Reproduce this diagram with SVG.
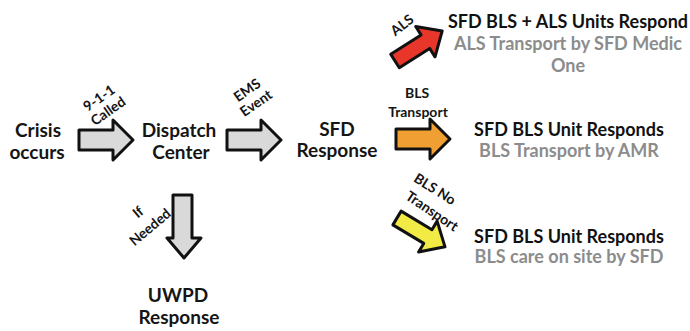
<svg xmlns="http://www.w3.org/2000/svg" width="690" height="331" viewBox="0 0 690 331">
<defs>
<style>
.node{font-family:Lato,"Open Sans","Liberation Sans",sans-serif;font-weight:700;font-size:19px;fill:#151515;text-anchor:middle}
.lbl{font-family:Lato,"Open Sans","Liberation Sans",sans-serif;font-weight:700;font-size:14px;fill:#151515;text-anchor:middle}
.ttl{font-family:Lato,"Open Sans","Liberation Sans",sans-serif;font-weight:700;font-size:18px;fill:#111;text-anchor:middle}
.sub{font-family:Lato,"Open Sans","Liberation Sans",sans-serif;font-weight:700;font-size:18px;fill:#8c8c8c;text-anchor:middle}
.arr{stroke:#111;stroke-width:3;stroke-linejoin:round}
.gray{fill:#d9d9d9}
</style>
<path id="harrow" d="M0,-10 H34 V-20 L54,0 L34,20 V10 H0 Z"/>
<path id="darrow" d="M0,-8 H36 V-18 L56,0 L36,18 V8 H0 Z"/>
</defs>
<rect width="690" height="331" fill="#fff"/>

<g id="connectors">
  <g id="c-crisis-dispatch">
    <use href="#harrow" class="arr gray" transform="translate(79,140)"/>
    <text class="lbl" transform="translate(99,98) rotate(-35)" y="5">9-1-1</text>
    <text class="lbl" transform="translate(108,111) rotate(-35)" y="5">Called</text>
  </g>
  <g id="c-dispatch-sfd">
    <use href="#harrow" class="arr gray" transform="translate(227,140)"/>
    <text class="lbl" transform="translate(247,90) rotate(-35)" y="5">EMS</text>
    <text class="lbl" transform="translate(256,103) rotate(-35)" y="5">Event</text>
  </g>
  <g id="c-dispatch-uwpd">
    <path class="arr gray" d="M173,195 H192 V238 H201 L184,258 L167,238 H173 Z"/>
    <text class="lbl" transform="translate(138,212) rotate(-40)" y="5">If</text>
    <text class="lbl" transform="translate(150,227) rotate(-40)" y="5">Needed</text>
  </g>
  <g id="c-sfd-als">
    <use href="#darrow" class="arr" fill="#e8362b" transform="translate(395,61) rotate(-32.5)"/>
    <text class="lbl" transform="translate(402,25) rotate(-38)" y="5">ALS</text>
  </g>
  <g id="c-sfd-bls">
    <use href="#harrow" class="arr" fill="#f0a033" transform="translate(396,139)"/>
    <text class="lbl" x="417" y="98">BLS</text>
    <text class="lbl" x="418" y="117">Transport</text>
  </g>
  <g id="c-sfd-blsno">
    <use href="#darrow" class="arr" fill="#f2ea45" transform="translate(397,218) rotate(31)"/>
    <text class="lbl" transform="translate(435,189) rotate(32)" y="5">BLS No</text>
    <text class="lbl" transform="translate(432,211) rotate(34)" y="5">Transport</text>
  </g>
</g>

<g id="crisis">
  <text class="node" x="38" y="137">Crisis</text>
  <text class="node" x="37" y="159">occurs</text>
</g>
<g id="dispatch">
  <text class="node" x="179" y="137">Dispatch</text>
  <text class="node" x="181" y="159">Center</text>
</g>
<g id="sfd">
  <text class="node" x="337" y="136">SFD</text>
  <text class="node" x="337" y="157">Response</text>
</g>
<g id="uwpd">
  <text class="node" x="178" y="302">UWPD</text>
  <text class="node" x="179" y="324">Response</text>
</g>
<g id="als-units">
  <text class="ttl" x="568" y="28">SFD BLS + ALS Units Respond</text>
  <text class="sub" x="568" y="50">ALS Transport by SFD Medic</text>
  <text class="sub" x="568" y="72">One</text>
</g>
<g id="bls-transport">
  <text class="ttl" x="569" y="136">SFD BLS Unit Responds</text>
  <text class="sub" x="569" y="157">BLS Transport by AMR</text>
</g>
<g id="bls-onsite">
  <text class="ttl" x="569" y="243">SFD BLS Unit Responds</text>
  <text class="sub" x="569" y="263">BLS care on site by SFD</text>
</g>
</svg>
